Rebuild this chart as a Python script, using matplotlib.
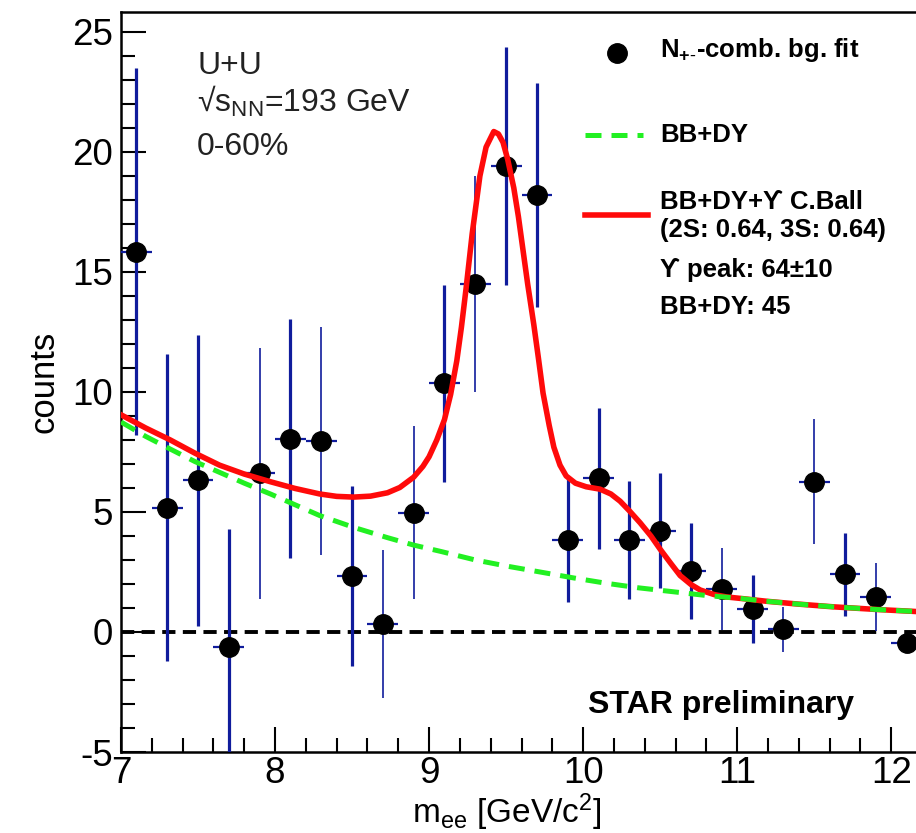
import matplotlib
matplotlib.use('Agg')
import matplotlib.pyplot as plt
from matplotlib.ticker import MultipleLocator
from matplotlib.lines import Line2D

plt.rcParams['font.family'] = ['Liberation Sans', 'DejaVu Sans']
plt.rcParams['mathtext.fontset'] = 'custom'
plt.rcParams['mathtext.rm'] = 'Liberation Sans'
plt.rcParams['mathtext.it'] = 'Liberation Sans:italic'
plt.rcParams['mathtext.bf'] = 'Liberation Sans:bold'
plt.rcParams['axes.unicode_minus'] = False

# ---- data -------------------------------------------------------------
mass = [7.1, 7.3, 7.5, 7.7, 7.9, 8.1, 8.3, 8.5, 8.7, 8.9, 9.1, 9.3, 9.5,
        9.7, 9.9, 10.1, 10.3, 10.5, 10.7, 10.9, 11.1, 11.3, 11.5, 11.7,
        11.9, 12.1]
counts = [15.85, 5.18, 6.32, -0.63, 6.61, 8.05, 7.95, 2.33, 0.33, 4.97,
          10.36, 14.49, 19.42, 18.21, 3.83, 6.40, 3.83, 4.22, 2.56, 1.80,
          0.96, 0.11, 6.26, 2.40, 1.47, -0.44]
count_err = [7.65, 6.40, 6.05, 4.90, 5.22, 4.97, 4.75, 3.75, 3.10, 3.60,
             4.10, 4.50, 4.95, 4.65, 2.60, 2.95, 2.45, 2.40, 2.00, 1.70,
             1.40, 0.95, 2.60, 1.72, 1.41, 0.0]
bin_half_width = 0.1

# fit curve BB+DY+Upsilon (Crystal Ball)
fit_x = [7.0, 7.16, 7.32, 7.48, 7.64, 7.80, 7.97, 8.13, 8.29, 8.40, 8.51,
         8.62, 8.73, 8.81, 8.90, 8.96, 9.00, 9.05, 9.10, 9.14, 9.18, 9.21,
         9.24, 9.28, 9.33, 9.37, 9.42, 9.45, 9.48, 9.51, 9.55, 9.58, 9.61,
         9.64, 9.68, 9.71, 9.74, 9.78, 9.81, 9.85, 9.89, 9.95, 10.02, 10.11,
         10.18, 10.24, 10.30, 10.37, 10.44, 10.50, 10.57, 10.63, 10.70,
         10.76, 10.85, 10.93, 11.05, 11.19, 11.40, 11.62, 11.90, 12.2]
fit_y = [9.05, 8.50, 8.00, 7.45, 6.95, 6.58, 6.26, 5.98, 5.75, 5.65, 5.62,
         5.66, 5.80, 6.02, 6.45, 6.90, 7.30, 8.00, 8.85, 9.90, 11.30, 12.70,
         14.30, 16.60, 19.00, 20.20, 20.85, 20.75, 20.40, 19.70, 18.50,
         17.30, 15.90, 14.50, 12.80, 11.40, 9.95, 8.60, 7.70, 6.95, 6.50,
         6.20, 6.05, 5.95, 5.75, 5.45, 5.05, 4.55, 4.00, 3.45, 2.85, 2.35,
         1.98, 1.75, 1.56, 1.46, 1.38, 1.28, 1.16, 1.05, 0.94, 0.84]

# BB+DY background curve
bg_x = [7.0, 7.16, 7.32, 7.48, 7.64, 7.80, 7.97, 8.13, 8.29, 8.51, 8.73,
        8.90, 9.08, 9.30, 9.50, 9.72, 9.94, 10.15, 10.36, 10.58, 10.80,
        11.02, 11.19, 11.40, 11.62, 11.90, 12.2]
bg_y = [8.75, 8.15, 7.62, 7.10, 6.65, 6.20, 5.75, 5.30, 4.85, 4.36, 3.93,
        3.62, 3.35, 3.00, 2.75, 2.50, 2.25, 2.03, 1.84, 1.68, 1.52, 1.40,
        1.28, 1.16, 1.05, 0.94, 0.84]

# ---- styles -----------------------------------------------------------
thick_bar = [1, 1, 1, 1, 0, 1, 0, 1, 0, 0, 1, 0, 1, 1, 1, 1, 1, 1, 1, 0,
             1, 0, 0, 1, 0, 1]
BLUE = '#101c9c'
GREEN = '#22f022'
RED = '#ff0a0a'

W, H = 916, 833
fig = plt.figure(figsize=(W / 100, H / 100), dpi=100)
ax = fig.add_axes([121 / W, 1 - 752 / H, 801 / W, 740 / H])


def fx(px):
    return px / W


def fy(py):
    return 1 - py / H


# zero line
ax.plot([7.0, 12.2], [0, 0], color='black', lw=2.8, dashes=(3.4, 1.9),
        zorder=2)

# data with errors
eb = ax.errorbar(mass, counts, yerr=count_err, xerr=bin_half_width,
                 fmt='o', color='black', ms=14, ecolor=BLUE, elinewidth=2.0,
                 capsize=0, zorder=3)
bars = eb[2]
bars[1].set_linewidths([2.3 if t else 1.2 for t in thick_bar])
bars[0].set_linewidths(1.6)
eb[0].set_zorder(4)

# curves
ax.plot(fit_x, fit_y, color=RED, lw=4.0, zorder=5, solid_joinstyle='round')
ax.plot(bg_x, bg_y, color=GREEN, lw=3.6, dashes=(3.2, 2.0), zorder=6)

ax.set_xlim(7.0, 12.2)
ax.set_ylim(-5, 25.83)
ax.xaxis.set_major_locator(MultipleLocator(1))
ax.xaxis.set_minor_locator(MultipleLocator(0.2))
ax.yaxis.set_major_locator(MultipleLocator(5))
ax.yaxis.set_minor_locator(MultipleLocator(1))
ax.tick_params(which='both', direction='in', top=False, right=False,
               width=1.5, labelsize=26.5)
ax.tick_params(which='major', length=18)
ax.tick_params(which='minor', length=10)
ax.tick_params(axis='y', pad=6)
ax.tick_params(axis='x', pad=3)
for s in ax.spines.values():
    s.set_linewidth(1.8)

fig.text(fx(507), fy(823), r'm$_{\mathrm{ee}}$ [GeV/c$^{2}$]', fontsize=24,
         ha='center', va='baseline')
ax.set_ylabel('counts', fontsize=25, labelpad=8)

# collision info
txt_col = '#222222'
fig.text(fx(197), fy(74), 'U+U', fontsize=23, color=txt_col, va='baseline')
fig.text(fx(197), fy(112), r'√s$_{\mathrm{NN}}$=193 GeV', fontsize=23,
         color=txt_col, va='baseline')
fig.text(fx(197), fy(155), '0-60%', fontsize=23, color=txt_col,
         va='baseline')

# legend
fig.add_artist(Line2D([fx(617)], [fy(53)], marker='o', ms=14, color='black',
                      ls='none'))
fig.add_artist(Line2D([fx(585), fx(643)], [fy(135), fy(135)], color=GREEN,
                      lw=3.6, dashes=(3.2, 2.0)))
fig.add_artist(Line2D([fx(585), fx(648)], [fy(215), fy(215)], color=RED,
                      lw=4.0))
leg_fs = 18.5
fam = ['Liberation Sans', 'DejaVu Serif', 'DejaVu Sans']
fig.text(fx(660), fy(50), r'N$_{\mathbf{+}\text{-}}$-comb. bg. fit',
         fontsize=leg_fs, fontweight='bold', va='center')
fig.text(fx(660), fy(135), 'BB+DY', fontsize=leg_fs, fontweight='bold',
         va='center')
fig.text(fx(660), fy(202), 'BB+DY+\u03d2 C.Ball', fontsize=leg_fs,
         fontweight='bold', va='center', family=fam)
fig.text(fx(660), fy(230), '(2S: 0.64, 3S: 0.64)', fontsize=leg_fs,
         fontweight='bold', va='center')
fig.text(fx(660), fy(270), '\u03d2 peak: 64\u00b110', fontsize=leg_fs,
         fontweight='bold', va='center', family=fam)
fig.text(fx(660), fy(307), 'BB+DY: 45', fontsize=leg_fs, fontweight='bold',
         va='center')

fig.text(fx(854), fy(713), 'STAR preliminary', fontsize=23,
         fontweight='bold', ha='right', va='baseline')

fig.savefig('out.png', dpi=100)
